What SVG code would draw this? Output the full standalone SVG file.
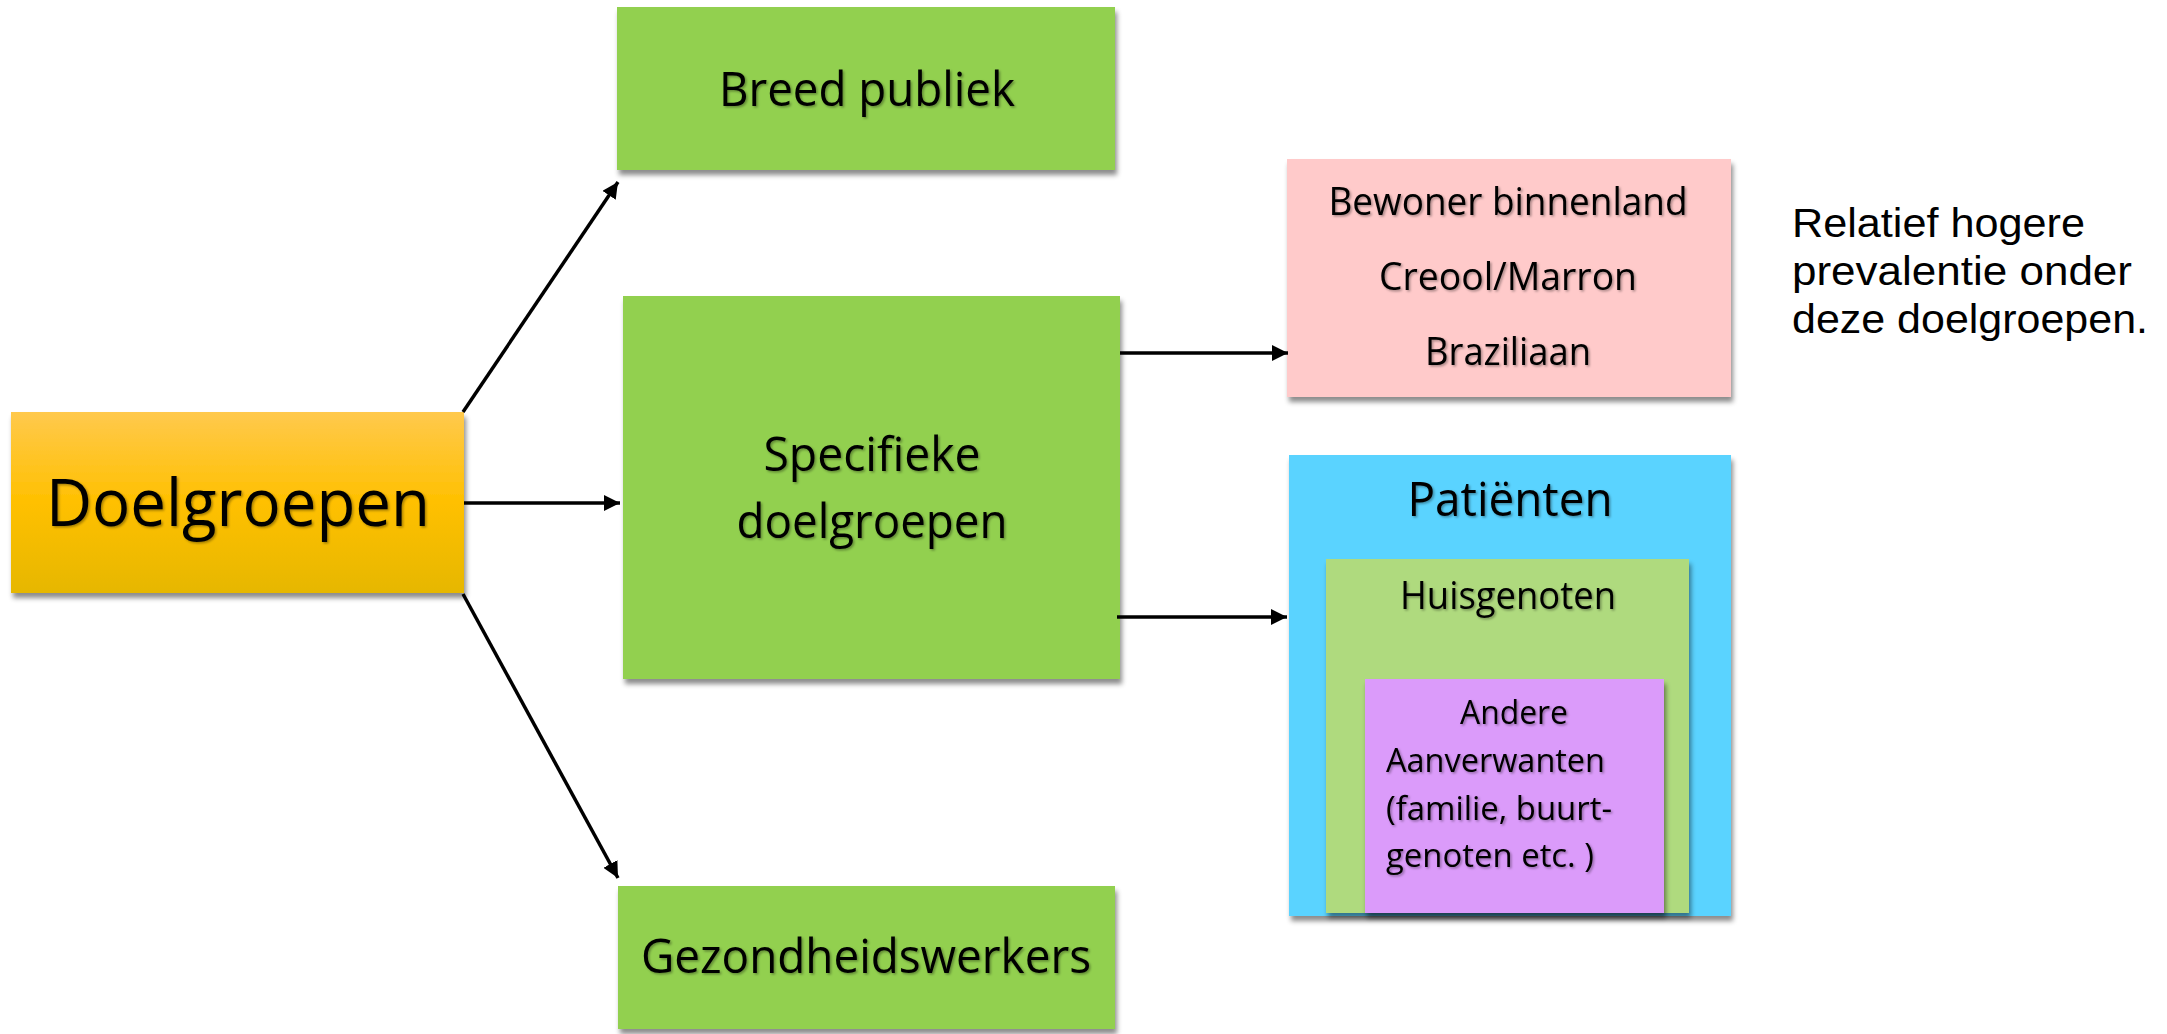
<svg xmlns="http://www.w3.org/2000/svg" width="2167" height="1034" viewBox="0 0 2167 1034">
<defs>
<style>
text{font-family:"Open Sans","Noto Sans","Liberation Sans",sans-serif;fill:#000;}
.note{font-family:"Liberation Sans",Arial,sans-serif;font-size:41px;}
.box{filter:url(#shadow);}
.t{filter:url(#tshadow);}
.conn{stroke:#000;stroke-width:3.5;fill:none;marker-end:url(#arrow);}
.green{fill:#92D050;}
</style>
<linearGradient id="gold" x1="0" y1="0" x2="0" y2="1">
<stop offset="0" stop-color="#FFC94D"/>
<stop offset="0.5" stop-color="#FFC000"/>
<stop offset="1" stop-color="#E6B700"/>
</linearGradient>
<filter id="shadow" x="-5%" y="-5%" width="115%" height="115%">
<feDropShadow dx="2" dy="5" stdDeviation="2.5" flood-color="#000" flood-opacity="0.45"/>
</filter>
<filter id="tshadow" x="-5%" y="-20%" width="115%" height="150%">
<feDropShadow dx="1.5" dy="1.5" stdDeviation="1" flood-color="#000" flood-opacity="0.35"/>
</filter>
<marker id="arrow" markerUnits="userSpaceOnUse" markerWidth="18" markerHeight="16" refX="16" refY="8" orient="auto">
<path d="M0,0 L16,8 L0,16 z" fill="#000"/>
</marker>
</defs>
<rect width="2167" height="1034" fill="#fff"/>

<g id="doelgroepen">
<rect class="box" x="11" y="412" width="453" height="181" fill="url(#gold)"/>
<text class="t" x="238" y="526" font-size="66" text-anchor="middle" textLength="384" lengthAdjust="spacingAndGlyphs">Doelgroepen</text>
</g>

<g id="breed-publiek">
<rect class="box green" x="617" y="7" width="498" height="163"/>
<text class="t" x="867" y="106" font-size="48" text-anchor="middle" textLength="296" lengthAdjust="spacingAndGlyphs">Breed publiek</text>
</g>

<g id="specifieke-doelgroepen">
<rect class="box green" x="623" y="296" width="497" height="383"/>
<text class="t" x="872" y="471" font-size="48" text-anchor="middle" textLength="217" lengthAdjust="spacingAndGlyphs">Specifieke</text>
<text class="t" x="872" y="538" font-size="48" text-anchor="middle" textLength="271" lengthAdjust="spacingAndGlyphs">doelgroepen</text>
</g>

<g id="gezondheidswerkers">
<rect class="box green" x="618" y="886" width="497" height="143"/>
<text class="t" x="866" y="973" font-size="48" text-anchor="middle" textLength="450" lengthAdjust="spacingAndGlyphs">Gezondheidswerkers</text>
</g>

<g id="etnische-groepen">
<rect class="box" x="1287" y="159" width="444" height="238" fill="#FFCACA"/>
<text class="t" x="1508" y="215" font-size="38" text-anchor="middle" textLength="359" lengthAdjust="spacingAndGlyphs">Bewoner binnenland</text>
<text class="t" x="1508" y="290" font-size="38" text-anchor="middle" textLength="258" lengthAdjust="spacingAndGlyphs">Creool/Marron</text>
<text class="t" x="1508" y="365" font-size="38" text-anchor="middle" textLength="166" lengthAdjust="spacingAndGlyphs">Braziliaan</text>
</g>

<g id="patienten">
<rect class="box" x="1289" y="455" width="442" height="461" fill="#5AD3FF"/>
<text class="t" x="1510" y="516" font-size="47" text-anchor="middle" textLength="205" lengthAdjust="spacingAndGlyphs">Patiënten</text>
</g>

<g id="huisgenoten">
<rect class="box" x="1326" y="559" width="363" height="354" fill="#AFDA7E"/>
<text class="t" x="1508" y="609" font-size="38" text-anchor="middle" textLength="216" lengthAdjust="spacingAndGlyphs">Huisgenoten</text>
</g>

<g id="andere-aanverwanten">
<rect class="box" x="1365" y="679" width="299" height="234" fill="#DB9BFA"/>
<text class="t" x="1514" y="724" font-size="33" text-anchor="middle" textLength="108" lengthAdjust="spacingAndGlyphs">Andere</text>
<text class="t" x="1386" y="772" font-size="33" textLength="219" lengthAdjust="spacingAndGlyphs">Aanverwanten</text>
<text class="t" x="1386" y="820" font-size="33" textLength="226" lengthAdjust="spacingAndGlyphs">(familie, buurt-</text>
<text class="t" x="1386" y="867" font-size="33" textLength="208" lengthAdjust="spacingAndGlyphs">genoten etc. )</text>
</g>

<g id="annotatie">
<text class="note" x="1792" y="237" textLength="293" lengthAdjust="spacingAndGlyphs">Relatief hogere</text>
<text class="note" x="1792" y="285" textLength="340" lengthAdjust="spacingAndGlyphs">prevalentie onder</text>
<text class="note" x="1792" y="333" textLength="356" lengthAdjust="spacingAndGlyphs">deze doelgroepen.</text>
</g>

<g id="connectors">
<line class="conn" x1="463" y1="412" x2="618" y2="182"/>
<line class="conn" x1="464" y1="503" x2="620" y2="503"/>
<line class="conn" x1="463" y1="594" x2="618" y2="878"/>
<line class="conn" x1="1120" y1="353" x2="1288" y2="353"/>
<line class="conn" x1="1117" y1="617" x2="1287" y2="617"/>
</g>
</svg>
